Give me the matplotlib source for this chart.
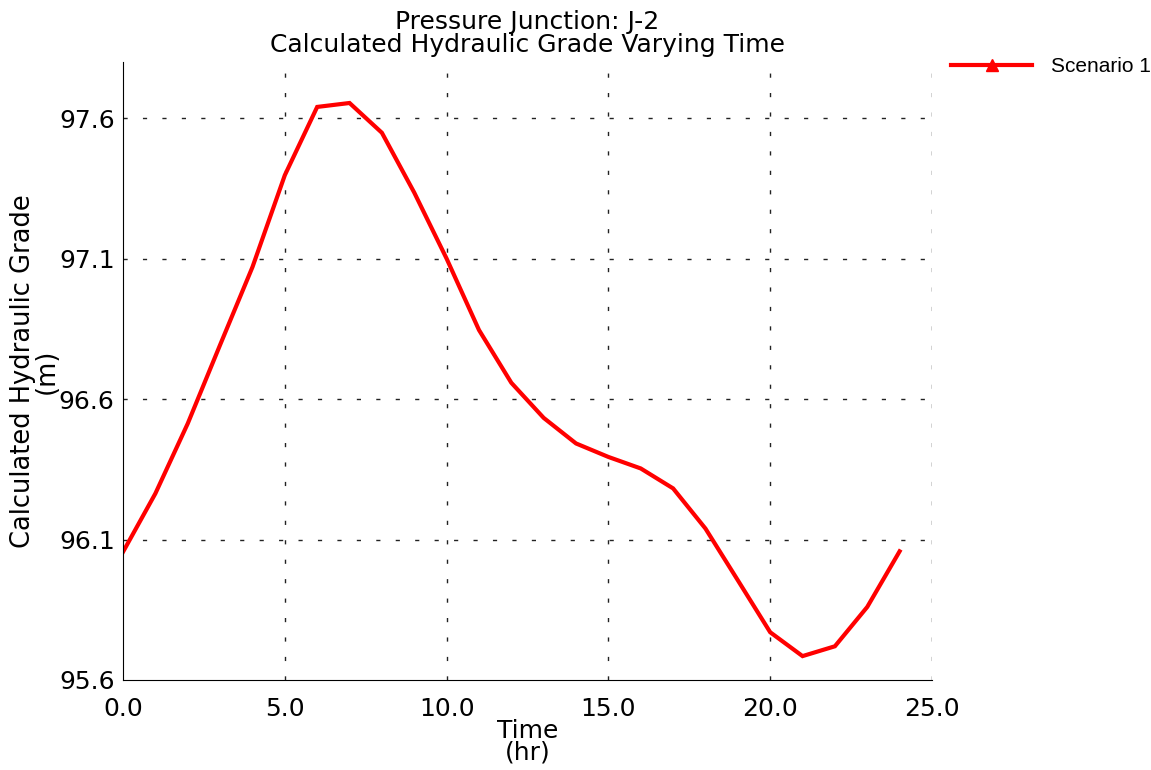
import matplotlib
matplotlib.use("Agg")
import matplotlib.pyplot as plt
from matplotlib.lines import Line2D

plt.rcParams['font.family'] = ['DejaVu Sans']
plt.rcParams['lines.scale_dashes'] = False

# hydraulic grade at J-2, hourly
hours = list(range(25))
grade = [96.056, 96.264, 96.513, 96.793, 97.07, 97.397, 97.640, 97.654, 97.548,
         97.335, 97.100, 96.846, 96.658, 96.533, 96.442, 96.394, 96.353, 96.282,
         96.139, 95.955, 95.770, 95.685, 95.720, 95.860, 96.058]
xticks = [0.0, 5.0, 10.0, 15.0, 20.0, 25.0]
yticks = [95.6, 96.1, 96.6, 97.1, 97.6]

fig = plt.figure(figsize=(11.51, 7.70), dpi=100)
ax = fig.add_axes([0.1069, 0.1169, 0.7028, 0.8026])

ax.plot(hours, grade, color='red', lw=3.0, solid_joinstyle='miter')

ax.set_xlim(0, 25)
ax.set_ylim(95.6, 97.80)
ax.set_xticks(xticks)
ax.set_xticklabels(['%.1f' % v for v in xticks])
ax.set_yticks(yticks)
ax.set_yticklabels(['%.1f' % v for v in yticks])
ax.tick_params(length=0, labelsize=18)
ax.tick_params(axis='x', pad=12)
ax.tick_params(axis='y', pad=6)

# dotted grid lines
for v in xticks[1:]:
    ax.axvline(v, color='#222222', lw=1.0, dashes=(3, 11), zorder=0)
for v in yticks[1:]:
    ax.axhline(v, color='#222222', lw=1.0, dashes=(3, 11), zorder=0)

ax.spines['top'].set_visible(False)
ax.spines['right'].set_visible(False)

ax.set_title('Pressure Junction: J-2\nCalculated Hydraulic Grade Varying Time',
             fontsize=18, linespacing=0.95, pad=7)
ax.set_xlabel('Time\n(hr)', fontsize=18, linespacing=0.88, labelpad=-1)
ax.set_ylabel('Calculated Hydraulic Grade\n(m)', fontsize=18.5, linespacing=0.9, labelpad=-1)

handle = Line2D([], [], color='red', lw=3.0, marker='^', markersize=9)
leg = fig.legend([handle], ['Scenario 1'], loc='center left',
                 bbox_to_anchor=(0.810, 0.913), frameon=False,
                 handlelength=3.9, handletextpad=0.9,
                 prop={'family': 'Liberation Sans', 'size': 15})

fig.savefig('out.png', dpi=100)
